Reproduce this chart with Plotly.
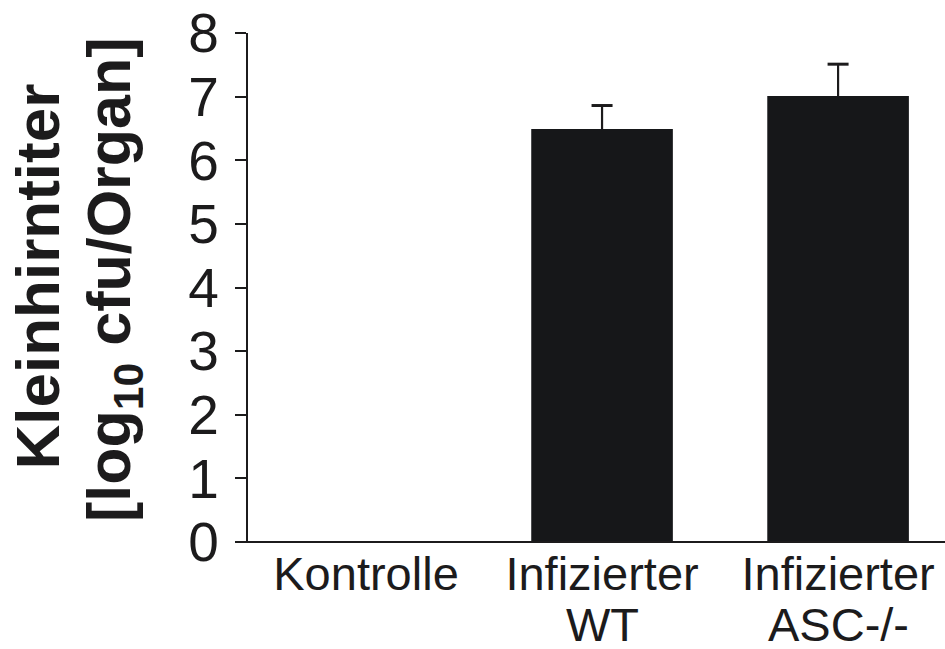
import plotly.graph_objects as go

categories = ["Kontrolle", "Infizierter WT", "Infizierter ASC-/-"]
label_line1 = ["Kontrolle", "Infizierter", "Infizierter"]
label_line2 = ["", "WT", "ASC-/-"]
values = [0.0, 6.49, 7.01]
errors = [0.0, 0.37, 0.50]
y_ticks = [0, 1, 2, 3, 4, 5, 6, 7, 8]

ink = "#1c1b1c"
font_family = "Liberation Sans, Arial, Helvetica, sans-serif"

fig = go.Figure()
fig.add_trace(go.Bar(
    x=categories,
    y=values,
    marker=dict(color="#161719", line=dict(width=0)),
    width=0.6,
    hoverinfo="skip",
))
# upper error bars: vertical stem from bar top, cap drawn as a marker
idx = [i for i, e in enumerate(errors) if e > 0]
tops = [values[i] + errors[i] for i in idx]
fig.add_trace(go.Scatter(
    x=[categories[i] for i in idx],
    y=tops,
    mode="markers",
    marker=dict(symbol="line-ew", size=15, line=dict(color=ink, width=3)),
    error_y=dict(type="data", symmetric=False, array=[0] * len(idx),
                 arrayminus=[errors[i] for i in idx], color=ink, thickness=2.2, width=0),
    hoverinfo="skip",
))

W, H = 945, 649
L, R, T, B = 248, 0, 33, 107
pw = W - L - R

annotations = []
# second line of category labels
for c, t in zip(categories, label_line2):
    if t:
        annotations.append(dict(
            x=c, xref="x", y=0, yref="paper", yanchor="middle", xanchor="center",
            yshift=-82, text=t, showarrow=False,
            font=dict(family=font_family, size=47, color=ink)))

# y-axis title (two lines)
annotations.append(dict(
    x=0, xref="paper", y=0.5216, yref="paper", xanchor="center", yanchor="middle",
    xshift=-210, text="<b>Kleinhirntiter</b>", textangle=-90, showarrow=False,
    font=dict(family=font_family, size=62, color=ink)))
annotations.append(dict(
    x=0, xref="paper", y=0.5147, yref="paper", xanchor="center", yanchor="middle",
    xshift=-135, text="<b>[log<sub>10</sub> cfu/Organ]</b>", textangle=-90, showarrow=False,
    font=dict(family=font_family, size=61, color=ink)))

fig.update_layout(
    width=W, height=H,
    margin=dict(l=L, r=R, t=T, b=B, pad=0, autoexpand=False),
    paper_bgcolor="white", plot_bgcolor="white",
    showlegend=False,
    annotations=annotations,
    shapes=[dict(type="line", xref="paper", yref="paper", x0=-11 / pw, x1=1, y0=0, y1=0,
                 line=dict(color=ink, width=2.2))],
    xaxis=dict(
        range=[-0.5, 2.453], automargin=False,
        tickmode="array", tickvals=categories, ticktext=label_line1,
        showline=False, ticks="", showgrid=False, zeroline=False,
        tickfont=dict(family=font_family, size=47, color=ink),
    ),
    yaxis=dict(
        range=[0, 8], automargin=False,
        tickmode="array", tickvals=y_ticks, ticktext=[str(v) for v in y_ticks],
        showline=True, linecolor=ink, linewidth=2.2,
        ticks="outside", ticklen=11, tickwidth=2.2, tickcolor=ink,
        ticklabelstandoff=5,
        showgrid=False, zeroline=False,
        tickfont=dict(family=font_family, size=55, color=ink),
    ),
)

fig.write_html(
    "out.html",
    config={"displayModeBar": False},
    post_script="document.body.style.margin='0';document.body.style.overflow='hidden';",
)
